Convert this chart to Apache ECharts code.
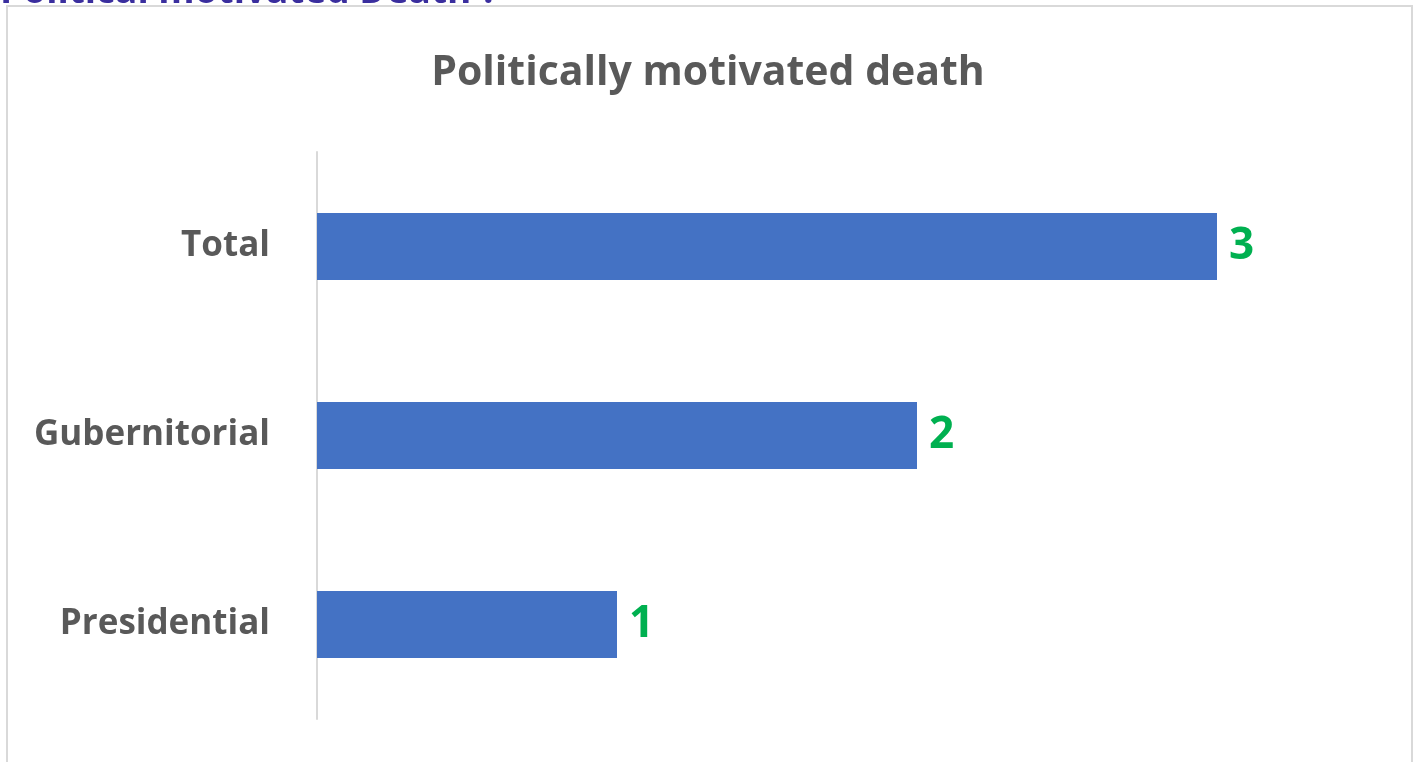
<!DOCTYPE html>
<html>
<head>
<meta charset="utf-8">
<script src="https://cdn.jsdelivr.net/npm/echarts@6/dist/echarts.min.js"></script>
<style>
  html, body { margin: 0; padding: 0; background: #fff; }
  #chart { width: 1416px; height: 762px; }
</style>
</head>
<body>
<div id="chart"></div>
<script>
// ---- Data ----
const categories = ['Presidential', 'Gubernitorial', 'Total'];
const deaths = [1, 2, 3];
const chartTitle = 'Politically motivated death';
const pageHeading = 'Political motivated Death ?';

const chart = echarts.init(document.getElementById('chart'));

const option = {
  animation: false,
  title: {
    text: chartTitle,
    left: 'center',
    top: 48,
    textStyle: {
      fontFamily: 'Open Sans',
      fontSize: 41,
      fontWeight: 'bold',
      color: '#595959'
    }
  },
  graphic: [
    {
      type: 'rect',
      shape: { x: 7, y: 6, width: 1405, height: 780 },
      style: { fill: 'none', stroke: '#d9d9d9', lineWidth: 2 },
      silent: true
    },
    {
      type: 'text',
      left: 0,
      top: -26,
      style: {
        text: pageHeading,
        fontFamily: 'Open Sans',
        fontSize: 37,
        fontWeight: 'bold',
        fill: '#3a2e9e'
      }
    }
  ],
  grid: {
    left: 317,
    right: 49,
    top: 152,
    bottom: 43,
    containLabel: false
  },
  xAxis: {
    type: 'value',
    min: 0,
    max: 3.5,
    show: false
  },
  yAxis: {
    type: 'category',
    data: categories,
    axisLine: { show: true, lineStyle: { color: '#d9d9d9', width: 2 } },
    axisTick: { show: false },
    axisLabel: {
      margin: 47,
      fontFamily: 'Open Sans',
      fontSize: 35,
      fontWeight: 'bold',
      color: '#595959'
    }
  },
  series: [
    {
      type: 'bar',
      data: deaths,
      barWidth: 67,
      itemStyle: { color: '#4472c4' },
      label: {
        show: true,
        position: 'right',
        distance: 12,
        fontFamily: 'Open Sans',
        fontSize: 44,
        fontWeight: 'bold',
        color: '#00b050'
      }
    }
  ]
};

chart.setOption(option);
window.addEventListener('resize', () => chart.resize());
</script>
</body>
</html>
